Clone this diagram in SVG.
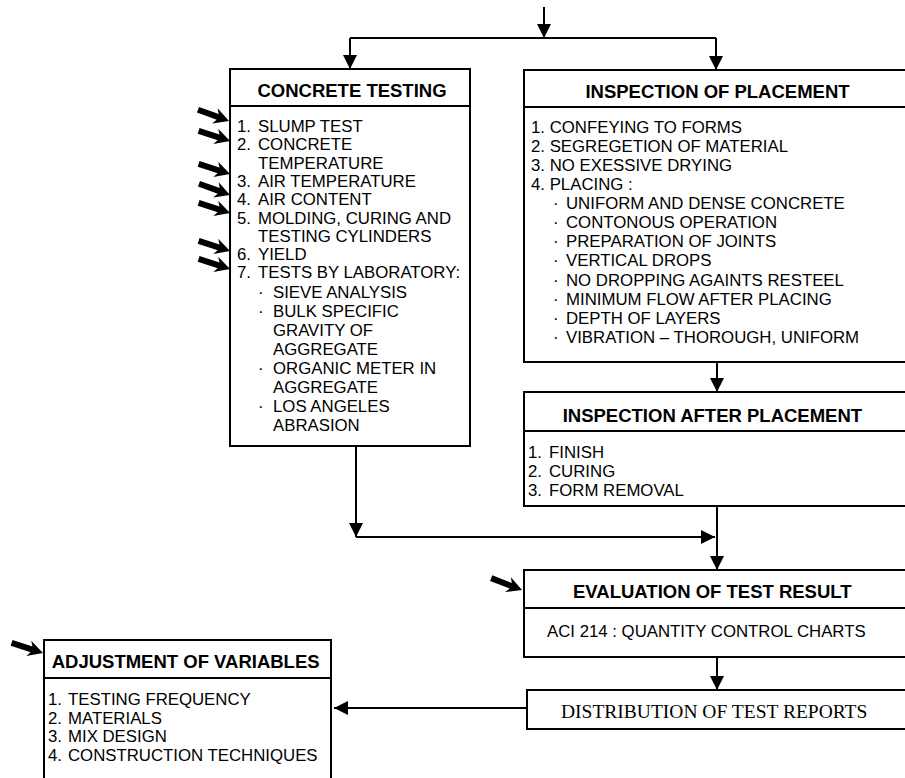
<svg xmlns="http://www.w3.org/2000/svg" width="905" height="778" viewBox="0 0 905 778">
  <style>
    .box { fill: #fff; stroke: #000; stroke-width: 2; }
    .open { fill: none; stroke: #000; stroke-width: 2; }
    .div { stroke: #000; stroke-width: 2; }
    .title { font-family: "Liberation Sans", Arial, sans-serif; font-weight: bold; font-size: 18.5px; fill: #000; }
    .body { font-family: "Liberation Sans", Arial, sans-serif; font-size: 16.8px; fill: #000; }
    .serif { font-family: "Liberation Serif", "Times New Roman", serif; font-size: 19.5px; fill: #000; }
    .conn { fill: none; stroke: #000; stroke-width: 2; }
    .mid { text-anchor: middle; }
  </style>
  <defs>
    <marker id="head" markerUnits="userSpaceOnUse" markerWidth="15" markerHeight="15" refX="14" refY="7" orient="auto">
      <path d="M0,0 L14,7 L0,14 Z" fill="#000"/>
    </marker>
    <!-- thick pointer arrow, tip at origin pointing along +x -->
    <path id="pointer" d="M0,0 L-15,-8 L-12,-3 L-33,-3 L-33,3 L-12,3 L-15,8 Z" fill="#000"/>
  </defs>

  <!-- connectors -->
  <g id="connectors">
    <path class="conn" d="M544,7 V38" marker-end="url(#head)"/>
    <path class="conn" d="M350,38 H716"/>
    <path class="conn" d="M350,38 V69" marker-end="url(#head)"/>
    <path class="conn" d="M716,38 V70" marker-end="url(#head)"/>
    <path class="conn" d="M717,362 V392" marker-end="url(#head)"/>
    <path class="conn" d="M356,446 V537" marker-end="url(#head)"/>
    <path class="conn" d="M356,537 H715" marker-end="url(#head)"/>
    <path class="conn" d="M717,506 V570" marker-end="url(#head)"/>
    <path class="conn" d="M717,657 V690" marker-end="url(#head)"/>
    <path class="conn" d="M527,708 H334" marker-end="url(#head)"/>
  </g>

  <!-- pointers to tested items -->
  <g id="pointers">
    <use href="#pointer" transform="translate(229,121) rotate(20)"/>
    <use href="#pointer" transform="translate(230,141) rotate(18)"/>
    <use href="#pointer" transform="translate(230,174) rotate(18)"/>
    <use href="#pointer" transform="translate(230,195) rotate(20)"/>
    <use href="#pointer" transform="translate(230,213) rotate(18)"/>
    <use href="#pointer" transform="translate(230,251) rotate(18)"/>
    <use href="#pointer" transform="translate(230,269) rotate(18)"/>
    <use href="#pointer" transform="translate(522,590) rotate(21)"/>
    <use href="#pointer" transform="translate(43,653) rotate(18)"/>
  </g>

  <g id="concrete-testing">
    <rect class="box" x="230" y="69" width="240" height="377"/>
    <line class="div" x1="230" y1="106" x2="470" y2="106"/>
    <text class="title mid" x="352" y="97">CONCRETE TESTING</text>
    <text class="body">
      <tspan x="237" y="132">1.</tspan><tspan x="258" y="132">SLUMP TEST</tspan>
      <tspan x="237" y="150.3">2.</tspan><tspan x="258" y="150.3">CONCRETE</tspan>
      <tspan x="258" y="168.6">TEMPERATURE</tspan>
      <tspan x="237" y="187">3.</tspan><tspan x="258" y="187">AIR TEMPERATURE</tspan>
      <tspan x="237" y="205.2">4.</tspan><tspan x="258" y="205.2">AIR CONTENT</tspan>
      <tspan x="237" y="223.5">5.</tspan><tspan x="258" y="223.5">MOLDING, CURING AND</tspan>
      <tspan x="258" y="241.8">TESTING CYLINDERS</tspan>
      <tspan x="237" y="260.1">6.</tspan><tspan x="258" y="260.1">YIELD</tspan>
      <tspan x="237" y="278.4">7.</tspan><tspan x="258" y="278.4">TESTS BY LABORATORY:</tspan>
      <tspan x="258" y="298">·</tspan><tspan x="273" y="298">SIEVE ANALYSIS</tspan>
      <tspan x="258" y="317">·</tspan><tspan x="273" y="317">BULK SPECIFIC</tspan>
      <tspan x="273" y="336">GRAVITY OF</tspan>
      <tspan x="273" y="355">AGGREGATE</tspan>
      <tspan x="258" y="374">·</tspan><tspan x="273" y="374">ORGANIC METER IN</tspan>
      <tspan x="273" y="393">AGGREGATE</tspan>
      <tspan x="258" y="412">·</tspan><tspan x="273" y="412">LOS ANGELES</tspan>
      <tspan x="273" y="431">ABRASION</tspan>
    </text>
  </g>

  <g id="inspection-of-placement">
    <rect class="box" x="524" y="70" width="400" height="292"/>
    <line class="div" x1="524" y1="107" x2="924" y2="107"/>
    <text class="title mid" x="717.5" y="98">INSPECTION OF PLACEMENT</text>
    <text class="body">
      <tspan x="531" y="132.7">1. CONFEYING TO FORMS</tspan>
      <tspan x="531" y="151.8">2. SEGREGETION OF MATERIAL</tspan>
      <tspan x="531" y="170.9">3. NO EXESSIVE DRYING</tspan>
      <tspan x="531" y="190">4. PLACING :</tspan>
      <tspan x="553" y="209.1">·</tspan><tspan x="566" y="209.1">UNIFORM AND DENSE CONCRETE</tspan>
      <tspan x="553" y="228.2">·</tspan><tspan x="566" y="228.2">CONTONOUS OPERATION</tspan>
      <tspan x="553" y="247.3">·</tspan><tspan x="566" y="247.3">PREPARATION OF JOINTS</tspan>
      <tspan x="553" y="266.4">·</tspan><tspan x="566" y="266.4">VERTICAL DROPS</tspan>
      <tspan x="553" y="285.5">·</tspan><tspan x="566" y="285.5">NO DROPPING AGAINTS RESTEEL</tspan>
      <tspan x="553" y="304.6">·</tspan><tspan x="566" y="304.6">MINIMUM FLOW AFTER PLACING</tspan>
      <tspan x="553" y="323.7">·</tspan><tspan x="566" y="323.7">DEPTH OF LAYERS</tspan>
      <tspan x="553" y="342.8">·</tspan><tspan x="566" y="342.8">VIBRATION – THOROUGH, UNIFORM</tspan>
    </text>
  </g>

  <g id="inspection-after-placement">
    <rect class="box" x="524" y="392" width="400" height="114"/>
    <line class="div" x1="524" y1="431" x2="924" y2="431"/>
    <text class="title mid" x="712.4" y="421.7">INSPECTION AFTER PLACEMENT</text>
    <text class="body">
      <tspan x="528" y="458">1.</tspan><tspan x="549" y="458">FINISH</tspan>
      <tspan x="528" y="477">2.</tspan><tspan x="549" y="477">CURING</tspan>
      <tspan x="528" y="496">3.</tspan><tspan x="549" y="496">FORM REMOVAL</tspan>
    </text>
  </g>

  <g id="evaluation-of-test-result">
    <rect class="box" x="524" y="570" width="400" height="87"/>
    <line class="div" x1="524" y1="608" x2="924" y2="608"/>
    <text class="title mid" x="712.3" y="598">EVALUATION OF TEST RESULT</text>
    <text class="body" x="547" y="636.5">ACI 214 : QUANTITY CONTROL CHARTS</text>
  </g>

  <g id="distribution-of-test-reports">
    <rect class="box" x="527" y="690" width="400" height="39"/>
    <text class="serif" x="561" y="718">DISTRIBUTION OF TEST REPORTS</text>
  </g>

  <g id="adjustment-of-variables">
    <rect x="44" y="640" width="287" height="140" fill="#fff"/>
    <path class="open" d="M44,779 V640 H331 V779"/>
    <line class="div" x1="44" y1="678" x2="331" y2="678"/>
    <text class="title" x="51.7" y="668">ADJUSTMENT OF VARIABLES</text>
    <text class="body">
      <tspan x="48" y="705">1.</tspan><tspan x="68" y="705">TESTING FREQUENCY</tspan>
      <tspan x="48" y="723.5">2.</tspan><tspan x="68" y="723.5">MATERIALS</tspan>
      <tspan x="48" y="742">3.</tspan><tspan x="68" y="742">MIX DESIGN</tspan>
      <tspan x="48" y="760.5">4.</tspan><tspan x="68" y="760.5">CONSTRUCTION TECHNIQUES</tspan>
    </text>
  </g>
</svg>
